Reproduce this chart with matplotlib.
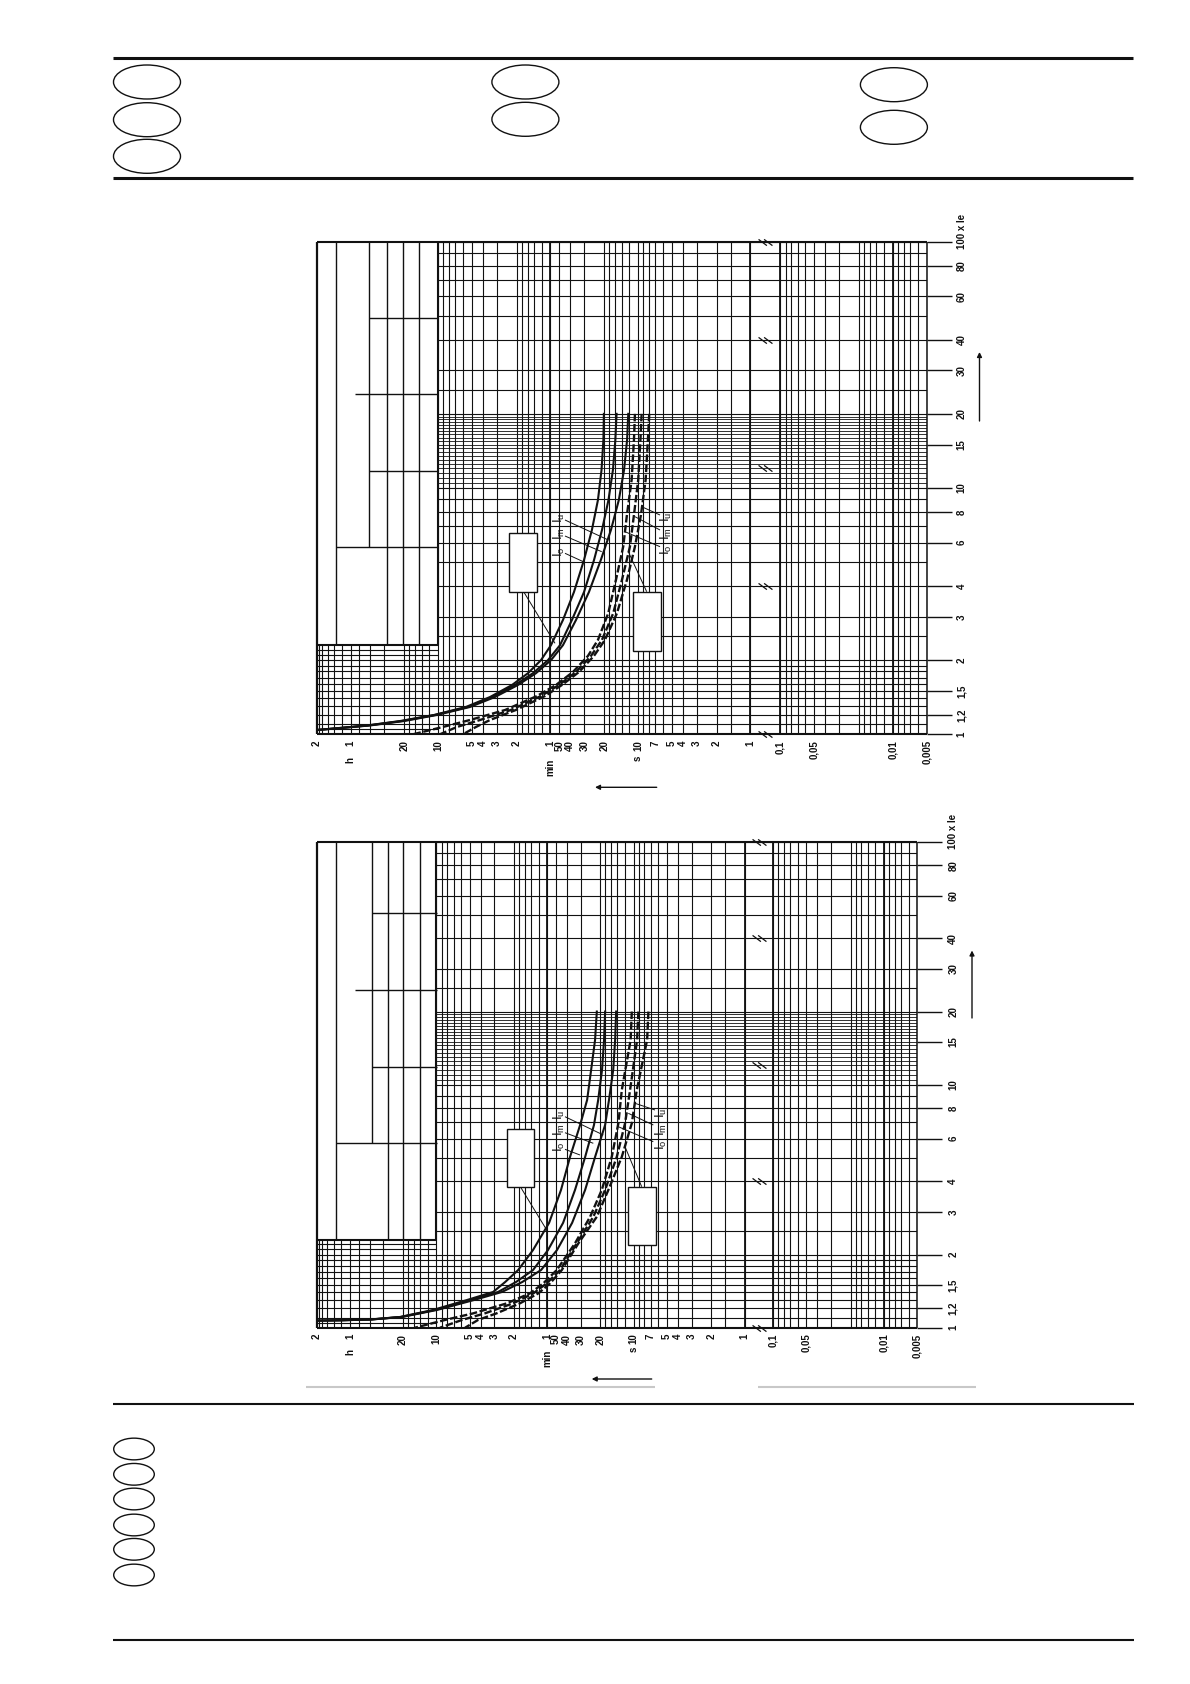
import numpy as np
import matplotlib
matplotlib.use("Agg")
import matplotlib.pyplot as plt
from matplotlib.patches import Ellipse, Rectangle
from matplotlib.path import Path
from matplotlib.transforms import offset_copy

plt.rcParams['font.family'] = ['Liberation Sans', 'DejaVu Sans']
plt.rcParams['mathtext.fontset'] = 'custom'
plt.rcParams['mathtext.rm'] = 'Liberation Sans'

PAGE_W, PAGE_H = 1190, 1684
INK = '#111111'

# ---------------------------------------------------------------------------
# Tripping characteristics: current multiple (x Ie) against tripping time (s)
# ---------------------------------------------------------------------------
# Diagram 1
upper_solid_current = [20.0, 15.66, 11.83, 8.94, 6.75, 5.10, 3.78, 2.91, 2.30, 2.00,
                       1.77, 1.585, 1.417, 1.291, 1.198, 1.132, 1.086, 1.056, 1.041]
upper_solid_Io = [20.1, 20.3, 21.1, 22.7, 25.7, 30.2, 37.1, 46.5, 59.4, 72.9,
                  95.2, 132, 207, 339, 652, 1309, 2573, 5057, 7200]
upper_solid_Im = [15.5, 15.9, 16.7, 18.3, 20.9, 24.6, 30.2, 38.7, 49.4, 63.2,
                  86, 124, 199, 325, 639, 1257, 2520, 4955, 7200]
upper_solid_Iu = [12.2, 12.5, 13.3, 14.8, 17.4, 21.4, 27.3, 35.6, 46.5, 59.4,
                  80.8, 117, 187, 312, 614, 1206, 2420, 4855, 7200]

upper_dashed_current = [20.0, 15.66, 10.78, 7.77, 5.78, 4.23, 3.10, 2.415, 2.08, 1.79,
                        1.585, 1.43, 1.255, 1.143, 1.071, 1.0]
upper_dashed_Io = [10.64, 10.86, 11.39, 12.54, 13.53, 15.71, 18.39, 22.71, 27.87, 37.9,
                   53.7, 79.2, 152, 312, 543, 1003]
upper_dashed_Im = [9.28, 9.51, 9.95, 10.86, 11.79, 13.89, 16.60, 20.92, 26.2, 35.6,
                   50.5, 72.9, 135, 254, 407, 577]
upper_dashed_Iu = [7.94, 8.16, 8.55, 9.41, 10.64, 12.54, 15.39, 19.68, 24.65, 33.5,
                   47.5, 67.2, 122, 207, 276, 360]

# Diagram 2
lower_solid_current = [20.0, 15.28, 11.50, 8.65, 6.83, 5.04, 3.69, 2.70, 2.088, 1.727,
                       1.542, 1.403, 1.300, 1.183, 1.107, 1.081, 1.073, 1.069]
lower_solid_Io = [21.5, 22.3, 24.2, 26.3, 30.4, 37.5, 45.2, 57.9, 80.8, 110,
                  144, 185, 318, 644, 1278, 2382, 4440, 7200]
lower_solid_Im = [18.1, 18.5, 19.3, 20.9, 22.8, 27.4, 33.8, 43.3, 59.2, 80.8,
                  115, 167, 293, 618, 1251, 2333, 4349, 7200]
lower_solid_Iu = [14.4, 14.7, 15.3, 16.7, 18.1, 22.3, 27.4, 35.9, 49.1, 68.4,
                  101, 154, 275, 593, 1226, 2285, 4259, 7200]

lower_dashed_current = [20.0, 15.28, 9.51, 6.94, 5.05, 3.69, 2.862, 2.225, 1.727, 1.523,
                        1.385, 1.260, 1.146, 1.076, 1.0]
lower_dashed_Io = [10.40, 10.66, 12.80, 13.74, 15.76, 19.40, 24.7, 33.8, 49.4, 65.2,
                   86.0, 139, 279, 502, 936]
lower_dashed_Im = [9.07, 9.32, 10.78, 11.96, 14.20, 18.1, 23.1, 32.6, 46.1, 60.8,
                   80.2, 122, 219, 353, 557]
lower_dashed_Iu = [7.37, 7.57, 9.38, 10.40, 12.80, 16.91, 21.5, 31.5, 44.5, 56.7,
                   72.3, 106, 172, 253, 331]

# Grid of the time axis (seconds)
time_grid = [600, 540, 480, 420, 360, 300, 240, 180, 120, 108, 96, 84, 72, 60, 50, 40,
             30, 20, 18, 16, 14, 12, 10, 9, 8, 7, 6, 5, 4, 3, 2, 1.5, 1,
             0.1, 0.09, 0.08, 0.07, 0.06, 0.05, 0.04, 0.03, 0.02, 0.018, 0.016, 0.014,
             0.012, 0.01, 0.009, 0.008, 0.007, 0.006, 0.005]
time_grid_heavy = [60, 1, 0.1, 0.01]
time_grid_long = [6840, 6480, 5760, 5040, 4320, 3600, 3000, 2400, 1800, 1200,
                  1080, 960, 840, 720]

# Grid of the current axis (x Ie)
current_grid = [1.0, 1.1, 1.2, 1.3, 1.4, 1.5, 1.6, 1.7, 1.8, 1.9, 2.0, 2.5, 3, 4, 5, 6, 7,
                8, 9, 10, 20, 25, 30, 40, 50, 60, 70, 80, 90, 100]
current_grid_fine = [10.5, 11, 11.5, 12, 12.5, 13, 13.5, 14, 14.5, 15, 15.5, 16,
                     16.5, 17, 17.5, 18, 18.5, 19, 19.5]
current_grid_long = [1.05, 2.1, 2.2]
break_currents = [100, 40, 12, 4, 1]

time_tick_values = [7200, 3600, 1200, 600, 300, 240, 180, 120, 60, 50, 40, 30, 20, 10,
                    7, 5, 4, 3, 2, 1, 0.1, 0.05, 0.01, 0.005]
time_tick_labels = ['2', '1', '20', '10', '5', '4', '3', '2', '1', '50', '40', '30', '20',
                    '10', '7', '5', '4', '3', '2', '1', '0,1', '0,05', '0,01', '0,005']
time_unit_values = [3600, 60, 10]
time_unit_labels = ['h', 'min', 's']

current_tick_values = [100, 80, 60, 40, 30, 20, 15, 10, 8, 6, 4, 3, 2, 1.5, 1.2, 1]
current_tick_labels = ['100 x Ie', '80', '60', '40', '30', '20', '15', '10', '8', '6',
                       '4', '3', '2', '1,5', '1,2', '1']

TABLE_FOOT = 2.3


def make_time_scale(gap):
    """Logarithmic time axis with a compressed break between 1 s and 0.1 s."""
    def fwd(t):
        t = np.asarray(t, dtype=float)
        lt = np.log10(np.clip(t, 1e-12, None))
        return np.where(lt >= 0, lt, np.where(lt <= -1, lt + 1 - gap, lt * gap))

    def inv(u):
        u = np.asarray(u, dtype=float)
        lt = np.where(u >= 0, u, np.where(u <= -gap, u - 1 + gap, u / gap))
        return 10.0 ** lt
    return fwd, inv


BREAK_MARK = Path([(-1.0, 0.45), (0.2, -0.45), (-0.2, 0.45), (1.0, -0.45)],
                  [Path.MOVETO, Path.LINETO, Path.MOVETO, Path.LINETO])

LABEL_FONT = dict(fontsize=7, fontweight='bold', color=INK)


def draw_diagram(fig, frame, gap, solid_I, solid_t, dashed_I, dashed_t,
                 label_x, tick_reach, unit_drop, tick_drop):
    left, top, right, bottom = frame
    ax = fig.add_axes([left / PAGE_W, 1 - bottom / PAGE_H,
                       (right - left) / PAGE_W, (bottom - top) / PAGE_H])
    ax.set_xscale('function', functions=make_time_scale(gap))
    ax.set_yscale('log')
    ax.set_xlim(7200, 0.005)
    ax.set_ylim(1, 100)
    ax.axis('off')

    glw = 0.8
    band = [c for c in current_grid if c < TABLE_FOOT]
    high = [c for c in current_grid if c >= TABLE_FOOT]
    ax.vlines(time_grid, 1, 100, colors=INK, lw=glw, zorder=1)
    ax.vlines(time_grid_heavy, 1, 100, colors=INK, lw=1.3, zorder=1)
    ax.vlines(time_grid_long, 1, TABLE_FOOT, colors=INK, lw=glw, zorder=1)
    ax.hlines(band, 7200, 0.005, colors=INK, lw=glw, zorder=1)
    ax.hlines(high, 600, 0.005, colors=INK, lw=glw, zorder=1)
    ax.hlines(current_grid_fine, 600, 0.005, colors=INK, lw=0.6, zorder=1)
    ax.hlines(current_grid_long, 7200, 600, colors=INK, lw=glw, zorder=1)

    # frame of the diagram and of the table area
    yt = ax.get_yaxis_transform()
    ax.hlines([1, 100], 0, 1, transform=yt, colors=INK, lw=1.5, clip_on=False, zorder=2)
    ax.hlines(current_tick_values, 1, 1 + tick_reach, transform=yt, colors=INK,
              lw=1.0, clip_on=False, zorder=2)
    ax.vlines(7200, 1, 100, colors=INK, lw=1.6, clip_on=False, zorder=2)
    ax.vlines(0.005, 1, 100, colors=INK, lw=1.1, clip_on=False, zorder=2)
    ax.vlines(600, TABLE_FOOT, 100, colors=INK, lw=1.5, zorder=2)
    ax.hlines(TABLE_FOOT, 7200, 600, colors=INK, lw=1.5, zorder=2)

    # axis break marks
    ax.plot([10 ** -0.5] * len(break_currents), break_currents, ls='none',
            marker=BREAK_MARK, ms=10, mew=0.9, mec=INK, mfc='none',
            clip_on=False, zorder=4)

    # characteristic curves
    for t in solid_t:
        ax.plot(t, solid_I, color=INK, lw=1.5, zorder=3)
    for t in dashed_t:
        ax.plot(t, dashed_I, color=INK, lw=1.7, ls=(0, (3.2, 1.1)), zorder=3)

    # time labels
    tb = offset_copy(ax.get_xaxis_transform(), fig=fig, y=-tick_drop, units='dots')
    for v, s in zip(time_tick_values, time_tick_labels):
        ax.text(v, 0, s, transform=tb, rotation=90, ha='center', va='top', **LABEL_FONT)
    for v, s, d in zip(time_unit_values, time_unit_labels, unit_drop):
        tu = offset_copy(ax.get_xaxis_transform(), fig=fig, y=-d, units='dots')
        ax.text(v, 0, s, transform=tu, rotation=90, ha='center', va='center',
                **LABEL_FONT)

    # current labels
    for v, s in zip(current_tick_values, current_tick_labels):
        if 'x' in s:
            tr = offset_copy(yt, fig=fig, y=-7, units='dots')
            ax.text(label_x, v, s, transform=tr, rotation=90, ha='center',
                    va='bottom', **LABEL_FONT)
        else:
            ax.text(label_x, v, s, transform=yt, rotation=90, ha='center',
                    va='center', **LABEL_FONT)
    return ax


fig = plt.figure(figsize=(PAGE_W / 100, PAGE_H / 100), dpi=100)
fig.patch.set_facecolor('white')

draw_diagram(fig, (316.7, 241.7, 926.7, 734.3), 0.2668,
             upper_solid_current, [upper_solid_Io, upper_solid_Im, upper_solid_Iu],
             upper_dashed_current, [upper_dashed_Io, upper_dashed_Im, upper_dashed_Iu],
             label_x=1.0574, tick_reach=0.041, unit_drop=[26, 33, 24], tick_drop=6)

draw_diagram(fig, (316.7, 841.7, 917.3, 1327.7), 0.2552,
             lower_solid_current, [lower_solid_Io, lower_solid_Im, lower_solid_Iu],
             lower_dashed_current, [lower_dashed_Io, lower_dashed_Im, lower_dashed_Iu],
             label_x=1.060, tick_reach=0.0406, unit_drop=[24, 31, 22], tick_drop=6)

# ---------------------------------------------------------------------------
# Page furniture, drawn in page pixel coordinates on top of the diagrams
# ---------------------------------------------------------------------------
ov = fig.add_axes([0, 0, 1, 1])
ov.set_xlim(0, PAGE_W)
ov.set_ylim(PAGE_H, 0)
ov.axis('off')


def seg(x0, y0, x1, y1, lw=1.0, color=INK):
    ov.plot([x0, x1], [y0, y1], color=color, lw=lw, solid_capstyle='butt')


# header block
seg(113, 57.7, 1133, 57.7, lw=2.2)
seg(113, 178.3, 1133, 178.3, lw=2.2)
for cx, cys in [(147, [82, 119.7, 156.3]), (525.4, [82, 119.3]), (893.9, [84.7, 127.3])]:
    for cy in cys:
        ov.add_patch(Ellipse((cx, cy), 67, 34, fill=False, lw=1.0, ec=INK))

# footer block
seg(113, 1404, 1134, 1404, lw=1.5)
seg(113, 1639.5, 1134, 1639.5, lw=1.5)
for cy in [1449, 1474.3, 1499, 1525, 1549.3, 1575]:
    ov.add_patch(Ellipse((134, cy), 40.6, 21.7, fill=False, lw=1.0, ec=INK))
seg(306, 1386.5, 654.5, 1386.5, lw=1.5, color='#c8c8c8')
seg(758, 1386.5, 976, 1386.5, lw=1.5, color='#c8c8c8')


def table(x, y):
    L, c1, c2, c3, c4, c5, R = x
    top, h1, h2, h3, h4, foot = y
    seg(c1, top, c1, foot)
    seg(c2, top, c2, h4)
    for c in (c3, c4, c5):
        seg(c, top, c, foot)
    seg(c2, h1, R, h1)
    seg(355, h2, R, h2)
    seg(c2, h3, R, h3)
    seg(c1, h4, R, h4)


table((316.7, 335.7, 369.3, 386.7, 403.3, 419.3, 436.7),
      (241.7, 318.3, 394, 471, 547.3, 645))
table((316.7, 336, 371.7, 388.3, 403.3, 420, 436.7),
      (841.7, 913.3, 990, 1066.7, 1142.7, 1239))


def callouts(left_lab, right_lab, left_box, right_box):
    names = [r'$\mathregular{I_u}$', r'$\mathregular{I_m}$', r'$\mathregular{I_o}$']
    for name, (tx, ty, x0, y0, x1, y1) in zip(names, left_lab):
        seg(x0, y0, x1, y1, lw=0.7)
        ov.text(tx, ty, name, rotation=90, ha='center', va='center', fontsize=9.5,
                color=INK)
    for name, (tx, ty, x0, y0, x1, y1) in zip(names, right_lab):
        seg(x0, y0, x1, y1, lw=0.7)
        ov.text(tx, ty, name, rotation=90, ha='center', va='center', fontsize=9.5,
                color=INK)
    for (bx, by, bw, bh, lx0, ly0, lx1, ly1) in (left_box, right_box):
        seg(lx0, ly0, lx1, ly1, lw=0.7)
        ov.add_patch(Rectangle((bx, by), bw, bh, fc='white', ec=INK, lw=1.0, zorder=5))


callouts([(559, 518.3, 565, 520, 608.3, 540),
          (559, 533.3, 565, 536, 601.7, 551.7),
          (559, 551.7, 565, 553.3, 583.3, 561.7)],
         [(666.7, 516.7, 660, 515, 641.7, 506.7),
          (666.7, 533.3, 660, 530, 635, 516.7),
          (666.7, 550, 660, 546.7, 625, 531.7)],
         (509.3, 533.3, 28, 59, 524, 592.3, 555, 643.3),
         (632.5, 591.7, 28.5, 59, 646.7, 591.7, 628.3, 551.7))

callouts([(559, 1115, 565, 1116.7, 603.3, 1135),
          (559, 1130, 565, 1132.7, 593.3, 1143.3),
          (559, 1146.7, 565, 1149.3, 580, 1155)],
         [(661.7, 1113.3, 655, 1110, 635, 1103.3),
          (661.7, 1130, 653.3, 1125, 628.3, 1113.3),
          (661.7, 1145, 653.3, 1141.7, 618.3, 1126.7)],
         (506.7, 1129.3, 27.6, 58, 520.7, 1187.3, 546.7, 1230),
         (628.3, 1186.7, 27.4, 58.3, 641.7, 1186.7, 625, 1146.7))

# direction arrows
arrow = dict(arrowstyle='-|>', lw=1.0, color=INK, mutation_scale=7, shrinkA=0, shrinkB=0)
ov.annotate('', xy=(979.5, 352), xytext=(979.5, 421), arrowprops=arrow)
ov.annotate('', xy=(972, 950.5), xytext=(972, 1018), arrowprops=arrow)
ov.annotate('', xy=(595, 787.3), xytext=(656.7, 787.3), arrowprops=arrow)
ov.annotate('', xy=(591.7, 1379), xytext=(651.7, 1379), arrowprops=arrow)

fig.savefig('out.png', dpi=100, facecolor='white')
